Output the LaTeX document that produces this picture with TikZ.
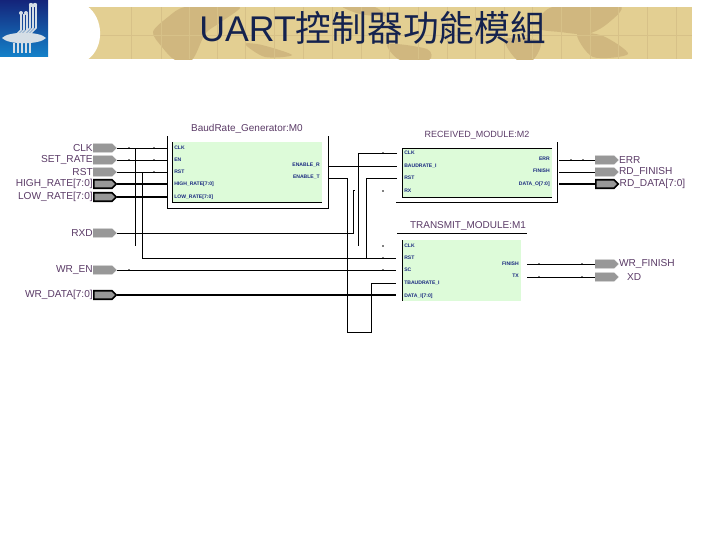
\documentclass[tikz,border=0pt]{standalone}
\usepackage{fontspec}
\setmainfont{Liberation Sans}
\newfontfamily\cjk{Noto Sans CJK TC}
\usepackage{xcolor}
\usetikzlibrary{arrows.meta,positioning,shapes.symbols}
\definecolor{bannertan}{HTML}{E3CF92}
\definecolor{maptan}{HTML}{D0B77F}
\definecolor{gridtan}{HTML}{D7C188}
\definecolor{titlenavy}{HTML}{14224E}
\definecolor{logoblue}{HTML}{1480C8}
\definecolor{logonavy}{HTML}{14247A}
\definecolor{logopale}{HTML}{D5DEE6}
\definecolor{blockgreen}{HTML}{DDFBD9}
\definecolor{portgray}{HTML}{989898}
\definecolor{labelplum}{HTML}{5A3A66}
\definecolor{pintext}{HTML}{1A2A80}

\begin{document}
\begin{tikzpicture}[x=0.025cm, y=-0.025cm, every node/.style={inner sep=0pt},
  wire/.style={line width=0.55pt, black},
  bus/.style={line width=1.5pt, black},
  frame/.style={line width=0.7pt, black},
  block/.style={fill=blockgreen, draw=none, anchor=north west},
  port/.style={shape=signal, signal to=east, signal from=nowhere, fill=portgray, draw=portgray, line width=0.3pt, minimum width=0.58cm, minimum height=0.21cm, anchor=west, label distance=1pt},
  busport/.style={port, draw=black, line width=1.2pt, minimum width=0.56cm},
  sig/.style={font=\fontsize{7.2}{9}\selectfont, text=labelplum},
  title/.style={font=\fontsize{7.1}{9}\selectfont, text=labelplum},
  pinL/.style={font=\fontsize{3.6}{4}\selectfont\bfseries, text=pintext, anchor=west},
  pinR/.style={font=\fontsize{3.6}{4}\selectfont\bfseries, text=pintext, anchor=east}]
\useasboundingbox (0,0) rectangle (720,540);
% Logo
\shade[top color=logonavy, bottom color=logoblue] (0,0) rectangle (48,56);
\foreach \lx in {21,24,27}
  \draw[logopale, line width=1.1pt] (\lx,14) -- (\lx,30) -- (\lx-7,37);
\foreach \lx in {30,33,36}
  \draw[logopale, line width=1.1pt] (\lx,6) -- (\lx,28) -- (\lx-10,38);
\fill[logopale] (21,13) circle (2) (26,13) circle (2) (31,5) circle (2.2) (35,5) circle (2.2);
\fill[logopale] (2,38) .. controls (8,31) and (40,31) .. (46,38) .. controls (40,45) and (8,45) .. (2,38) -- cycle;
\foreach \lx in {14,18,22,26,30}
  \draw[logopale, line width=1.1pt] (\lx,43) -- (\lx,53);
% Banner
\fill[bannertan] (87,7) rectangle (692,59);
\begin{scope}
\clip (87,7) rectangle (692,59);
\fill[maptan] plot[smooth cycle] coordinates {(153,32) (168,17) (185,7) (225,6) (240,8) (218,24) (205,34) (192,60) (175,60) (162,47)};
\fill[maptan] plot[smooth cycle] coordinates {(245,44) (262,45) (292,55) (265,57)};
\fill[maptan] plot[smooth cycle] coordinates {(342,6) (372,6) (386,16) (360,14)};
\fill[maptan] plot[smooth cycle] coordinates {(388,44) (427,49) (429,60) (400,60)};
\fill[maptan] plot[smooth cycle] coordinates {(540,17) (557,6) (620,6) (607,24) (587,34) (560,32) (540,29)};
\fill[maptan] plot[smooth cycle] coordinates {(505,39) (540,41) (533,60) (517,60)};
\fill[maptan] plot[smooth cycle] coordinates {(577,34) (603,36) (628,54) (593,57)};
\foreach \gx in {131,161,189,217,245,274,303,332,361,389,418,447,475,504,532,561,590,618,647,676}
  \draw[gridtan, line width=0.4pt] (\gx,7) -- (\gx,59);
\draw[gridtan, line width=0.5pt] (87,35) -- (692,35);
\end{scope}
\fill[white] (87,6) .. controls (104,18) and (105,48) .. (87,60) -- cycle;
\node[font=\fontsize{25.4}{28}\selectfont, text=titlenavy, anchor=west] (heading) at (199,28) {UART{\cjk 控制器功能模組}};
% BaudRate block
\node[title] (baudT) at (247,129) {BaudRate\_Generator:M0};
\node[block, minimum width=3.75cm, minimum height=1.5cm] (baud) at (172,142) {};
\draw[frame] (167,136) -- (167,208) -- (328,208) -- (328,136);
\draw[frame] (172,142) -- (172,202) -- (322,202);
\node[pinL] (bCLKt) at (174,148) {CLK};
\node[pinL] (bENt) at (174,160) {EN};
\node[pinL] (bRSTt) at (174,172) {RST};
\node[pinL] (bHIt) at (174,184) {HIGH\_RATE[7:0]};
\node[pinL] (bLOt) at (174,197) {LOW\_RATE[7:0]};
\node[pinR] (bERt) at (320,165) {ENABLE\_R};
\node[pinR] (bETt) at (320,177) {ENABLE\_T};
% Receive block
\node[title, font=\fontsize{6.4}{9}\selectfont] (recvT) at (477,135) {RECEIVED\_MODULE:M2};
\node[block, minimum width=3.75cm, minimum height=1.225cm] (recv) at (402,148) {};
\draw[frame] (552,148) -- (402,148) -- (402,197) -- (552,197);
\draw[frame] (396,202) -- (557,202) -- (557,142);
\node[pinL] (rCLKt) at (404,153) {CLK};
\node[pinL] (rBDt) at (404,166) {BAUDRATE\_I};
\node[pinL] (rRSTt) at (404,178) {RST};
\node[pinL] (rRXt) at (404,191) {RX};
\node[pinR] (rERRt) at (550,159) {ERR};
\node[pinR] (rFINt) at (550,171) {FINISH};
\node[pinR] (rDATt) at (550,184) {DATA\_O[7:0]};
% Transmit block
\node[title] (tranT) at (468,226) {TRANSMIT\_MODULE:M1};
\draw[frame] (397,233) -- (527,233);
\node[block, minimum width=2.975cm, minimum height=1.525cm] (tran) at (402,240) {};
\draw[frame] (402,240) -- (402,301);
\node[pinL] (tCLKt) at (404,246) {CLK};
\node[pinL] (tRSTt) at (404,258) {RST};
\node[pinL] (tSCt) at (404,270) {SC};
\node[pinL] (tBDt) at (404,283) {TBAUDRATE\_I};
\node[pinL] (tDATt) at (404,296) {DATA\_I[7:0]};
\node[pinR] (tFINt) at (519,264) {FINISH};
\node[pinR] (tTXt) at (519,276) {TX};
% Input ports
\node[port, label={[sig]left:CLK}] (pCLK) at (93,148) {};
\node[port, label={[sig]left:SET\_RATE}] (pSET) at (93,160) {};
\node[port, label={[sig]left:RST}] (pRST) at (93,172) {};
\node[busport, label={[sig]left:HIGH\_RATE[7:0]}] (pHI) at (93,184) {};
\node[busport, label={[sig]left:LOW\_RATE[7:0]}] (pLO) at (93,197) {};
\node[port, label={[sig]left:RXD}] (pRXD) at (93,233) {};
\node[port, label={[sig]left:WR\_EN}] (pWE) at (93,270) {};
\node[busport, label={[sig]left:WR\_DATA[7:0]}] (pWD) at (93,295) {};
% Output ports
\node[port, label={[sig]right:ERR}] (pERR) at (595,160) {};
\node[port, label={[sig]right:RD\_FINISH}] (pRF) at (595,172) {};
\node[busport, label={[sig]right:RD\_DATA[7:0]}] (pRD) at (595,184) {};
\node[port, label={[sig]right:WR\_FINISH}] (pWF) at (595,264) {};
\node[port, label={[sig, xshift=0.2cm]right:XD}] (pTX) at (595,277) {};
% Pin ends
\coordinate (bCLK) at (167,148);
\coordinate (bEN) at (167,160);
\coordinate (bRST) at (167,172);
\coordinate (bHI) at (167,184);
\coordinate (bLO) at (167,197);
\coordinate (bER) at (328,166);
\coordinate (bET) at (328,178);
\coordinate (rCLK) at (397,153);
\coordinate (rBD) at (397,166);
\coordinate (rRST) at (397,178);
\coordinate (rRX) at (355,190);
\coordinate (rERR) at (559,160);
\coordinate (rFIN) at (559,172);
\coordinate (rDAT) at (559,184);
\coordinate (tRST) at (396,258);
\coordinate (tSC) at (396,270);
\coordinate (tBD) at (396,283);
\coordinate (tDAT) at (396,295);
\coordinate (tFIN) at (527,264);
\coordinate (tTX) at (527,277);
\coordinate (clkA) at (135,246);
\coordinate (clkB) at (358,246);
% Wires
\draw[wire] (pCLK.east) -- (bCLK);
\draw[wire] (pSET.east) -- (bEN);
\draw[wire] (pRST.east) -- (bRST);
\draw[bus] (pHI.east) -- (bHI);
\draw[bus] (pLO.east) -- (bLO);
\draw[wire] (135,148) -- (clkA);
\draw[wire] (142,172) |- (tRST);
\draw[wire] (rRST) -| (366,258);
\draw[wire] (rCLK) -| (clkB);
\draw[wire] (pRXD.east) -| (353,190) -- (rRX);
\draw[wire] (bER) -- (rBD);
\draw[wire] (bET) -| (347,332) -| (371,283) -- (tBD);
\draw[wire] (pWE.east) -- (tSC);
\draw[bus] (pWD.east) -- (tDAT);
\draw[wire] (rERR) -- (pERR.west);
\draw[wire] (rFIN) -- (pRF.west);
\draw[bus] (rDAT) -- (pRD.west);
\draw[wire] (tFIN) -- (pWF.west);
\draw[wire] (tTX) -- (pTX.west);
% Ticks
\foreach \tx/\ty in {129/148,154/148,129/160,154/160,154/172,129/184,135/184,154/184,129/197,135/197,154/197,383/153,383/191,129/270,129/295,383/246,383/258,383/270,383/295,571/160,583/160,571/184,583/184,539/264,582/264,539/277,582/277}
  \fill (\tx,\ty) circle (0.8);
\end{tikzpicture}
\end{document}
